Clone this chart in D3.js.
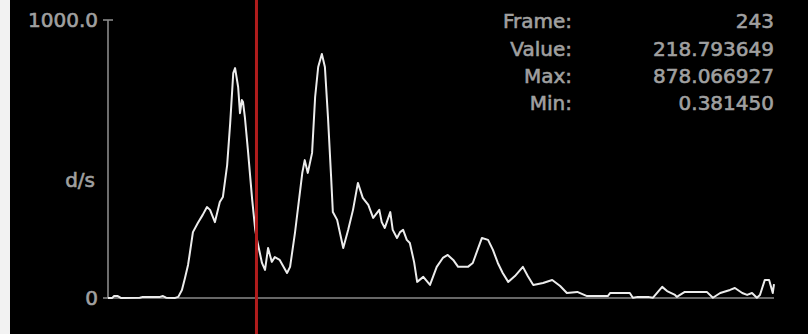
<!DOCTYPE html>
<html>
<head>
<meta charset="utf-8">
<script src="https://cdn.jsdelivr.net/npm/d3@7"></script>
<style>
  html, body { margin: 0; padding: 0; background: #000; }
  svg { display: block; }
  text { font-family: "DejaVu Sans", sans-serif; fill: #a0a0a0; stroke: #a0a0a0; stroke-width: 0.6px; }
</style>
</head>
<body>
<svg id="chart" width="808" height="334"></svg>
<script>
// Rate trace: frame number and value (d/s)
const frames = [0, 7, 10, 16, 21, 52, 57, 69, 85, 90, 95, 110, 115, 121, 126, 131, 134, 139, 147, 155,
  162, 167, 175, 183, 188, 195, 200, 205, 208, 213, 216, 219, 221, 224, 229, 236, 241, 243, 245, 252,
  257, 262, 268, 273, 281, 293, 298, 306, 318, 322, 327, 334, 339, 344, 350, 355, 360, 365, 368, 375,
  385, 393, 401, 409, 417, 426, 434, 444, 448, 453, 462, 466, 473, 478, 483, 489, 494, 501, 506, 516,
  527, 538, 548, 556, 565, 573, 589, 597, 606, 612, 622, 630, 638, 646, 655, 666, 679, 687, 696, 712,
  727, 740, 751, 768, 784, 818, 822, 854, 859, 867, 884, 892, 907, 915, 928, 931, 944, 980, 990, 1002,
  1018, 1026, 1038, 1046, 1054, 1062, 1067, 1075, 1082, 1088, 1090];
const values = [0.4, 0.4, 7, 7, 0.4, 1, 4, 4, 4, 7, 1, 0.381450, 4, 29, 72, 119, 162, 237, 270, 299,
  327, 317, 273, 345, 363, 478, 630, 809, 827, 759, 665, 712, 705, 651, 532, 353, 245, 218.793649, 198, 126,
  101, 180, 130, 147, 137, 90, 112, 234, 450, 496, 450, 522, 723, 831, 878.066927, 831, 651, 442, 309, 281,
  180, 245, 317, 414, 360, 335, 288, 317, 273, 252, 309, 245, 216, 237, 245, 209, 198, 129, 58, 76,
  47, 112, 144, 155, 137, 112, 112, 126, 180, 216, 209, 173, 126, 90, 58, 79, 112, 79, 47, 54,
  65, 43, 18, 22, 7, 7, 18, 18, 1, 4, 4, 1, 40, 25, 11, 4, 22, 22, 1, 18,
  29, 36, 18, 11, 18, 1, 11, 65, 65, 18, 50];

const yTicks = [0, 1000];
const yTickLabels = ["0", "1000.0"];
const yUnit = "d/s";
const currentFrame = 243;
const infoLabels = ["Frame:", "Value:", "Max:", "Min:"];
const infoValues = ["243", "218.793649", "878.066927", "0.381450"];

const svg = d3.select("#chart");
const W = 808, H = 334;

// panel background with light strip at the left edge
svg.append("rect").attr("width", W).attr("height", H).attr("fill", "#000");
svg.append("rect").attr("x", 0).attr("y", 0).attr("width", 10).attr("height", H).attr("fill", "#f2f2f2");

const x = d3.scaleLinear().domain([0, 1090]).range([108, 774]);
const y = d3.scaleLinear().domain([0, 1000]).range([298, 20]);

const axisColor = "#8a8a8a";

// vertical axis with end ticks
svg.append("line")
  .attr("x1", x(0)).attr("x2", x(0))
  .attr("y1", y(1000)).attr("y2", y(0))
  .attr("stroke", axisColor).attr("stroke-width", 1.6);
svg.append("line")
  .attr("x1", x(0) - 5).attr("x2", x(0) + 5)
  .attr("y1", y(1000)).attr("y2", y(1000))
  .attr("stroke", axisColor).attr("stroke-width", 1.6);

// zero baseline
svg.append("line")
  .attr("x1", x(0) - 5).attr("x2", x(1090))
  .attr("y1", y(0)).attr("y2", y(0))
  .attr("stroke", axisColor).attr("stroke-width", 1.6);

// tick labels
svg.selectAll("text.ytick")
  .data(yTicks)
  .join("text")
  .attr("class", "ytick")
  .attr("x", 98)
  .attr("y", d => y(d))
  .attr("dy", "0.36em")
  .attr("text-anchor", "end")
  .attr("font-size", 20)
  .text((d, i) => yTickLabels[i]);

svg.append("text")
  .attr("x", 95).attr("y", y(500) + 21)
  .attr("dy", "0.36em")
  .attr("text-anchor", "end")
  .attr("font-size", 20)
  .text(yUnit);

// trace
const pts = frames.map((f, i) => [f, values[i]]);
const line = d3.line().x(d => x(d[0])).y(d => y(d[1]));
svg.append("path")
  .attr("d", line(pts))
  .attr("fill", "none")
  .attr("stroke", "#ececec")
  .attr("stroke-width", 2)
  .attr("stroke-linejoin", "round");

// current frame cursor
svg.append("line")
  .attr("x1", x(currentFrame)).attr("x2", x(currentFrame))
  .attr("y1", 0).attr("y2", H)
  .attr("stroke", "#b01c1c").attr("stroke-width", 3);

// readout
const rowY = [21, 48.5, 76, 103];
svg.selectAll("text.info-label")
  .data(infoLabels)
  .join("text")
  .attr("class", "info-label")
  .attr("x", 572)
  .attr("y", (d, i) => rowY[i])
  .attr("dy", "0.36em")
  .attr("text-anchor", "end")
  .attr("font-size", 20)
  .text(d => d);
svg.selectAll("text.info-value")
  .data(infoValues)
  .join("text")
  .attr("class", "info-value")
  .attr("x", 774)
  .attr("y", (d, i) => rowY[i])
  .attr("dy", "0.36em")
  .attr("text-anchor", "end")
  .attr("font-size", 20)
  .text(d => d);
</script>
</body>
</html>
